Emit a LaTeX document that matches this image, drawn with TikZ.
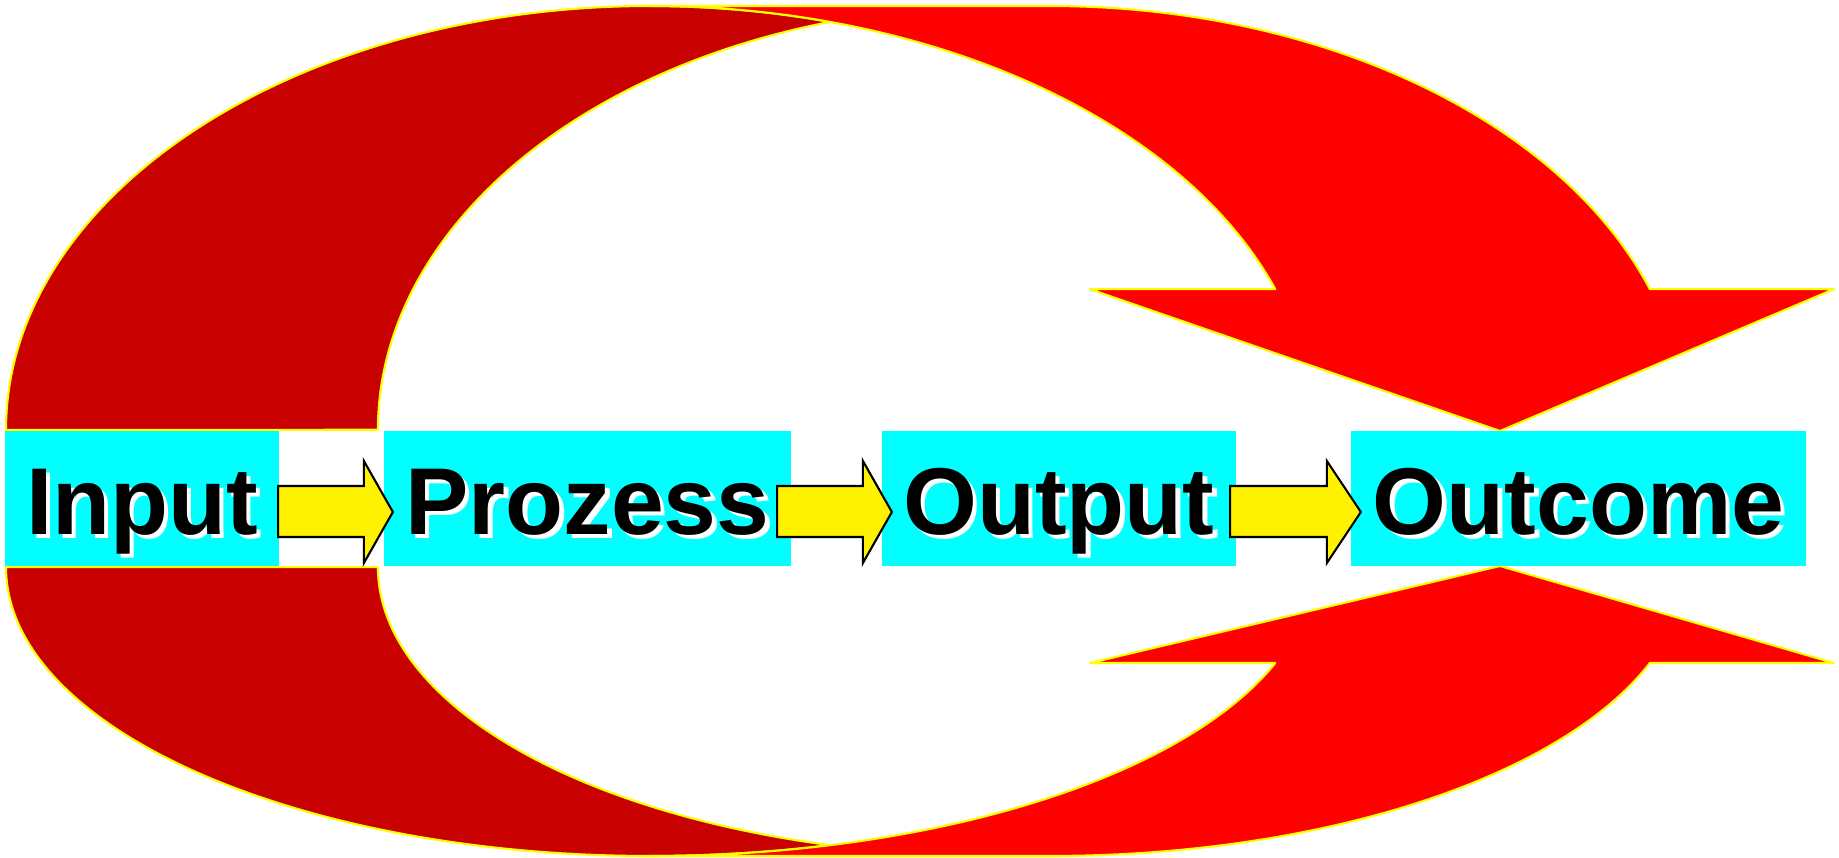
\documentclass[tikz,border=0pt]{standalone}
\usepackage{fontspec}
\newfontfamily\stagefont{Liberation Sans}
\usepackage{tikz}
\usetikzlibrary{calc}
\definecolor{backred}{RGB}{200,0,0}
\definecolor{frontred}{RGB}{255,0,0}
\definecolor{edgeyellow}{RGB}{255,255,0}
\definecolor{boxcyan}{RGB}{0,255,255}

\begin{document}
\begin{tikzpicture}[x=0.01cm, y=0.01cm,
    backface/.style={fill=backred, draw=edgeyellow, line width=0.6pt, line join=round},
    frontface/.style={fill=frontred, draw=edgeyellow, line width=0.6pt, line join=round},
    shadowtext/.style={text=white, inner sep=0pt, text height=0.71cm, text depth=0pt,
      font=\stagefont\bfseries\fontsize{27}{30}\selectfont},
    stage/.style={rectangle, fill=boxcyan, inner sep=0pt, outer sep=0pt,
      minimum height=1.35cm, text height=0.71cm, text depth=0pt,
      font=\stagefont\bfseries\fontsize{27}{30}\selectfont,
      path picture={\node[shadowtext] at ([xshift=0.045cm,yshift=-0.04cm]path picture bounding box.center) {#1};}},
    flow/.style={fill=yellow, draw=black, line width=0.6pt}]

    \useasboundingbox (0,0) rectangle (1839,858);

    % upper curved arrow
    \filldraw[backface] (6,428) arc[start angle=180, end angle=90, x radius=644, y radius=424]
      arc[start angle=90, end angle=74.25, x radius=663, y radius=424]
      arc[start angle=105.86, end angle=180, x radius=622, y radius=424] -- cycle;
    \filldraw[frontface] (650,852) -- (1050,852)
      arc[start angle=90, end angle=19.4, x radius=636, y radius=424]
      -- ++(184,0) -- (1500,427) -- (1090,568.8) -- (1275.3,568.8)
      arc[start angle=19.4, end angle=90, x radius=663, y radius=424] -- cycle;

    % lower curved arrow
    \filldraw[backface] (6,291) arc[start angle=180, end angle=270, x radius=644, y radius=289]
      arc[start angle=270, end angle=285.75, x radius=663, y radius=289]
      arc[start angle=254.14, end angle=180, x radius=622, y radius=289] -- cycle;
    \filldraw[frontface] (650,2) -- (1050,2)
      arc[start angle=270, end angle=340.6, x radius=636, y radius=289]
      -- ++(184,0) -- (1500,292) -- (1090,195) -- (1275.3,195)
      arc[start angle=340.6, end angle=270, x radius=663, y radius=289] -- cycle;

    \node[stage=Input, minimum width=2.74cm] (1) at (142,359.5) {Input};
    \node[stage=Prozess, minimum width=4.07cm] (2) at (587.5,359.5) {Prozess};
    \node[stage=Output, minimum width=3.54cm] (3) at (1059,359.5) {Output};
    \node[stage=Outcome, minimum width=4.55cm] (4) at (1578.5,359.5) {Outcome};

    \foreach \a/\b/\dx/\tx/\h in {1/2/-1/9/29, 2/3/-14/10/29, 3/4/-6/10/34}
      \draw[flow] ($(\a.east)+(\dx,-38.5)$) -- ($(\b.west)+(\tx-\h,-38.5)$) -- ++(0,-26)
        -- ++(\h,51) -- ++(-\h,51) -- ++(0,-25) -- ($(\a.east)+(\dx,12.5)$) -- cycle;
\end{tikzpicture}
\end{document}
